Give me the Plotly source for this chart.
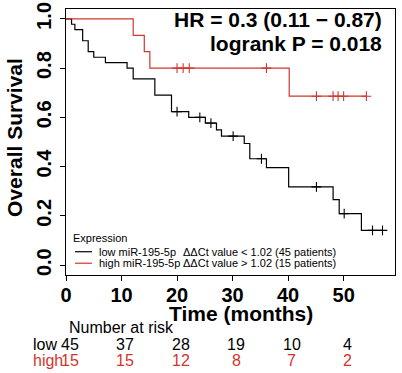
import plotly.graph_objects as go

# ---------------- data ----------------
low_t = [0, 1.0, 1.6, 3.0, 4.0, 5.0, 7.1, 11.0, 12.1, 16.0, 19.0, 22.1, 25.1,
         27.1, 28.0, 32.1, 33.1, 36.1, 40.1, 48.1, 49.2, 53.2, 57.0]
low_s = [1.0, 0.978, 0.956, 0.911, 0.867, 0.844, 0.822, 0.800, 0.756, 0.690,
         0.623, 0.600, 0.577, 0.549, 0.524, 0.494, 0.432, 0.396, 0.318, 0.266,
         0.209, 0.141, 0.141]
low_cens_t = [20.0, 24.1, 26.1, 30.1, 35.2, 45.1, 50.1, 55.2, 57.0]

high_t = [0, 12.1, 14.1, 15.1, 40.2, 54.1]
high_s = [1.0, 0.933, 0.867, 0.800, 0.686, 0.686]
high_cens_t = [20.0, 21.1, 22.2, 36.1, 45.1, 48.1, 49.0, 50.0, 54.1]

risk_times = [0, 10, 20, 30, 40, 50]
risk_low = [45, 37, 28, 19, 10, 4]
risk_high = [15, 15, 12, 8, 7, 2]

y_ticks = [0.0, 0.2, 0.4, 0.6, 0.8, 1.0]
y_tick_labels = ["0.0", "0.2", "0.4", "0.6", "0.8", "1.0"]

hr_text = "HR = 0.3 (0.11 \u2212 0.87)"
p_text = "logrank P = 0.018"
legend_title = "Expression"
legend_names = ["low miR-195-5p", "high miR-195-5p"]
legend_desc = ["\u0394\u0394Ct value < 1.02 (45 patients)",
               "\u0394\u0394Ct value > 1.02 (15 patients)"]
group_labels = ["low", "high"]

BLACK = "#000000"
RED = "#D0362C"
FONT = "Liberation Sans, Arial, sans-serif"


def step_lookup(ts, ss, t):
    val = ss[0]
    for ti, si in zip(ts, ss):
        if ti <= t:
            val = si
    return val


# ---------------- layout geometry (pixels) ----------------
W, H = 402, 373
PL, PR, PT, PB = 66, 395.3, 9, 275.3


def px(x):
    return (x - PL) / (PR - PL)


def py(y):
    return (PB - y) / (PB - PT)


fig = go.Figure()

for ts, ss, cens, col in [(low_t, low_s, low_cens_t, BLACK),
                          (high_t, high_s, high_cens_t, RED)]:
    fig.add_trace(go.Scatter(x=ts, y=ss, mode="lines", line_shape="hv",
                             line=dict(color=col, width=1.2),
                             showlegend=False, hoverinfo="skip"))
    fig.add_trace(go.Scatter(x=cens, y=[step_lookup(ts, ss, c) for c in cens],
                             mode="markers",
                             marker=dict(symbol="cross-thin", size=7,
                                         line=dict(color=col, width=1.1)),
                             showlegend=False, hoverinfo="skip"))

ann = []
# HR / logrank
ann.append(dict(text="<b>%s</b>" % hr_text, x=px(384), y=py(20), xref="paper",
                yref="paper", xanchor="right", yanchor="middle", showarrow=False,
                font=dict(family=FONT, size=21, color="black")))
ann.append(dict(text="<b>%s</b>" % p_text, x=px(384), y=py(44), xref="paper",
                yref="paper", xanchor="right", yanchor="middle", showarrow=False,
                font=dict(family=FONT, size=21, color="black")))
# axis titles
ann.append(dict(text="<b>Time (months)</b>", x=px(241), y=py(314), xref="paper",
                yref="paper", xanchor="center", yanchor="middle", showarrow=False,
                font=dict(family=FONT, size=21, color="black")))
ann.append(dict(text="<b>Overall Survival</b>", x=px(15), y=py(138), xref="paper",
                yref="paper", xanchor="center", yanchor="middle", showarrow=False,
                textangle=-90, font=dict(family=FONT, size=21, color="black")))
# legend
ann.append(dict(text=legend_title, x=px(71.5), y=py(238), xref="paper", yref="paper",
                xanchor="left", yanchor="middle", showarrow=False,
                font=dict(family=FONT, size=11, color="black")))
leg_rows = [252, 263.5]
for i, col in enumerate([BLACK, RED]):
    ann.append(dict(text=legend_names[i], x=px(97), y=py(leg_rows[i]), xref="paper",
                    yref="paper", xanchor="left", yanchor="middle", showarrow=False,
                    font=dict(family=FONT, size=11, color="black")))
    ann.append(dict(text=legend_desc[i], x=px(181), y=py(leg_rows[i]), xref="paper",
                    yref="paper", xanchor="left", yanchor="middle", showarrow=False,
                    font=dict(family=FONT, size=11, color="black")))
    fig.add_shape(type="line", xref="paper", yref="paper",
                  x0=px(75), x1=px(92), y0=py(leg_rows[i]), y1=py(leg_rows[i]),
                  line=dict(color=col, width=1.2))
# risk table
ann.append(dict(text="Number at risk", x=px(67), y=py(328), xref="paper", yref="paper",
                xanchor="left", yanchor="middle", showarrow=False,
                font=dict(family=FONT, size=16, color="black")))
for row, (vals, col, yy) in enumerate([(risk_low, BLACK, 345), (risk_high, RED, 361)]):
    ann.append(dict(text=group_labels[row], x=px(30.5), y=py(yy), xref="paper",
                    yref="paper", xanchor="left", yanchor="middle", showarrow=False,
                    font=dict(family=FONT, size=16, color=col)))
    for t, v in zip(risk_times, vals):
        ann.append(dict(text=str(v), x=t, y=py(yy), xref="x", yref="paper",
                        xanchor="center", yanchor="middle", xshift=3.5,
                        showarrow=False, font=dict(family=FONT, size=16, color=col)))

axis_common = dict(showline=True, mirror=True, linecolor="black", linewidth=1,
                   ticks="outside", ticklen=5, tickwidth=1, tickcolor="black",
                   showgrid=False, zeroline=False, automargin=False,
                   tickfont=dict(family=FONT, size=20, color="black", weight="bold"))

fig.update_layout(
    width=W, height=H,
    margin=dict(l=PL, r=W - PR, t=PT, b=H - PB, pad=0, autoexpand=False),
    paper_bgcolor="white", plot_bgcolor="white",
    xaxis=dict(range=[0, 59.25], tickvals=risk_times, ticklabelstandoff=-3,
               **axis_common),
    yaxis=dict(range=[-0.04, 1.04], tickvals=y_ticks, ticktext=y_tick_labels,
               tickangle=-90, ticklabelstandoff=1, **axis_common),
    annotations=ann,
    showlegend=False,
)

fig.write_html("out.html",
               config={"displayModeBar": False},
               post_script="document.body.style.margin='0';"
                           "document.body.style.padding='0';"
                           "document.body.style.overflow='hidden';")
